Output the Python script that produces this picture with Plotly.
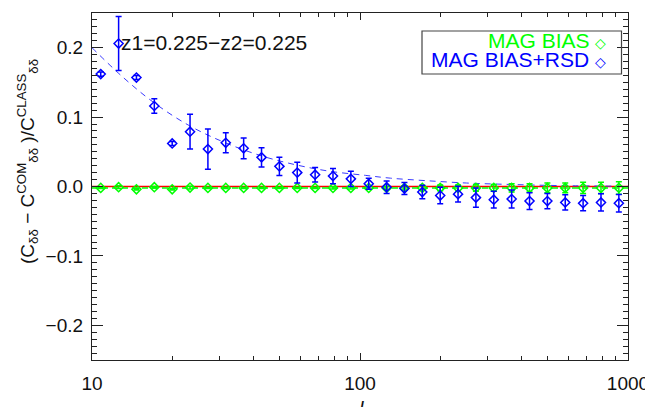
import plotly.graph_objects as go

# ---------------- data ----------------
ell = [10.78, 12.57, 14.65, 17.08, 19.92, 23.22, 27.07, 31.56, 36.80, 42.91,
       50.03, 58.32, 68.00, 79.29, 92.44, 107.8, 125.7, 146.5, 170.8, 199.2,
       232.2, 270.7, 315.6, 368.0, 429.1, 500.3, 583.2, 680.0, 792.9, 924.4]

rsd_y = [0.162, 0.206, 0.157, 0.116, 0.062, 0.079, 0.054, 0.063, 0.055, 0.042,
         0.029, 0.020, 0.017, 0.015, 0.011, 0.004, -0.001, -0.003, -0.008, -0.013,
         -0.011, -0.016, -0.019, -0.018, -0.021, -0.021, -0.023, -0.024, -0.023, -0.024]
rsd_err = [0.003, 0.039, 0.003, 0.0105, 0.003, 0.025, 0.029, 0.0145, 0.015, 0.014,
           0.013, 0.015, 0.0105, 0.011, 0.011, 0.008, 0.009, 0.0086, 0.0097, 0.012,
           0.0114, 0.014, 0.012, 0.013, 0.012, 0.011, 0.011, 0.011, 0.0124, 0.0126]

mag_y = [-0.002, -0.001, -0.004, -0.001, -0.004, -0.0015, -0.002, -0.002, -0.002, -0.002,
         -0.002, -0.002, -0.002, -0.002, -0.002, -0.002, -0.002, -0.002, -0.002, -0.002,
         -0.002, -0.002, -0.002, -0.002, -0.002, -0.002, -0.002, -0.002, -0.002, -0.002]
mag_err = [0.001, 0.002, 0.001, 0.001, 0.001, 0.002, 0.001, 0.001, 0.001, 0.001,
           0.001, 0.001, 0.001, 0.0015, 0.0015, 0.002, 0.002, 0.003, 0.003, 0.004,
           0.004, 0.005, 0.005, 0.006, 0.006, 0.007, 0.007, 0.008, 0.008, 0.009]

theory_ell = [10, 13, 17, 23, 31, 43, 58, 77, 105, 130, 175, 250, 345, 560, 1000]
theory_rsd = [0.200, 0.158, 0.121, 0.088, 0.064, 0.044, 0.031, 0.022, 0.016, 0.012,
              0.0085, 0.0050, 0.0032, 0.0013, 0.0004]
theory_mag_ell = [10, 1000]
theory_mag = [-0.002, -0.002]
zero_ell = [10, 1000]
zero_val = [0.0, 0.0]

x_major = [10, 100, 1000]
x_minor = [20, 30, 40, 50, 60, 70, 80, 90, 200, 300, 400, 500, 600, 700, 800, 900]
y_major = [-0.2, -0.1, 0.0, 0.1, 0.2]
y_major_text = ["\u22120.2", "\u22120.1", "0.0", "0.1", "0.2"]

BLUE = "#0000ff"
GREEN = "#00ff00"
RED = "#ff0000"
FONT = "Liberation Sans, Arial, sans-serif"

OFF = 8  # page body margin
W, H = 653 - OFF, 407 - OFF
ML, MR, MT, MB = 84, 25, 5, 47
PW, PH = W - ML - MR, H - MT - MB


def px(x):
    return (x - OFF - ML) / PW


def py(y):
    return 1 - (y - OFF - MT) / PH


fig = go.Figure()

fig.add_trace(go.Scatter(x=zero_ell, y=zero_val, mode="lines",
                         line=dict(color=RED, width=1.5), showlegend=False))
fig.add_trace(go.Scatter(x=theory_mag_ell, y=theory_mag, mode="lines",
                         line=dict(color=GREEN, width=1.5, dash="6px,4px"), showlegend=False))
fig.add_trace(go.Scatter(x=theory_ell, y=theory_rsd, mode="lines",
                         line=dict(color="#3a3aff", width=1, dash="6px,5px", shape="spline"),
                         showlegend=False))
fig.add_trace(go.Scatter(x=ell, y=mag_y, mode="markers",
                         marker=dict(symbol="diamond-open", size=7, color=GREEN,
                                     line=dict(width=1.5, color=GREEN)),
                         error_y=dict(type="data", array=mag_err, color=GREEN,
                                      thickness=1.5, width=3),
                         showlegend=False))
fig.add_trace(go.Scatter(x=ell, y=rsd_y, mode="markers",
                         marker=dict(symbol="diamond-open", size=7, color=BLUE,
                                     line=dict(width=1.5, color=BLUE)),
                         error_y=dict(type="data", array=rsd_err, color=BLUE,
                                      thickness=1.5, width=3),
                         showlegend=False))

axis_common = dict(showline=True, linecolor="#222", linewidth=1.3, mirror="ticks",
                   ticks="inside", tickcolor="#222", showgrid=False, zeroline=False,
                   automargin=False,
                   tickfont=dict(family=FONT, size=19, color="#111"))

fig.update_xaxes(type="log", range=[1, 3], tickvals=x_major,
                 ticktext=[str(v) for v in x_major], ticklen=7, tickwidth=1.2,
                 minor=dict(tickvals=x_minor, ticks="inside", ticklen=3.5,
                            tickcolor="#222", tickwidth=1, showgrid=False),
                 ticklabelstandoff=6,
                 **axis_common)
fig.update_yaxes(range=[-0.25, 0.25], tickvals=y_major, ticktext=y_major_text,
                 ticklen=10.5, tickwidth=1.2,
                 minor=dict(dtick=0.01, ticks="inside", ticklen=4.5,
                            tickcolor="#222", tickwidth=1, showgrid=False),
                 ticklabelstandoff=4,
                 **axis_common)

annotations = [
    dict(text="z1=0.225\u2212z2=0.225", x=px(119), y=py(42), xref="paper", yref="paper",
         xanchor="left", yanchor="middle", showarrow=False,
         font=dict(family=FONT, size=21, color="#111")),
    dict(text="MAG BIAS <span style='font-size:14px'>\u25c7</span>", x=px(608), y=py(41),
         xref="paper", yref="paper", xanchor="right", yanchor="middle", showarrow=False,
         font=dict(family=FONT, size=21, color=GREEN)),
    dict(text="MAG BIAS+RSD <span style='font-size:14px'>\u25c7</span>", x=px(608), y=py(60),
         xref="paper", yref="paper", xanchor="right", yanchor="middle", showarrow=False,
         font=dict(family=FONT, size=21, color=BLUE)),
    dict(text="(C<sub>\u03b4\u03b4</sub> \u2212 C<sup>COM</sup><sub>\u03b4\u03b4</sub> )/C<sup>CLASS</sup><sub>\u03b4\u03b4</sub>",
         x=px(27), y=py(162), xref="paper", yref="paper", xanchor="center", yanchor="middle",
         textangle=-90, showarrow=False, font=dict(family=FONT, size=19, color="#111")),
    dict(text="<i>l</i>", x=px(361), y=py(396), xref="paper", yref="paper",
         xanchor="center", yanchor="top", showarrow=False,
         font=dict(family=FONT, size=20, color="#111")),
]

shapes = [
    dict(type="rect", xref="paper", yref="paper", x0=px(422), x1=px(621.5),
         y0=py(74), y1=py(31), line=dict(color="#444", width=1.2), fillcolor="rgba(0,0,0,0)"),
]

fig.update_layout(width=W, height=H, margin=dict(l=ML, r=MR, t=MT, b=MB),
                  paper_bgcolor="white", plot_bgcolor="white",
                  annotations=annotations, shapes=shapes, showlegend=False)

fig.write_html("out.html")
